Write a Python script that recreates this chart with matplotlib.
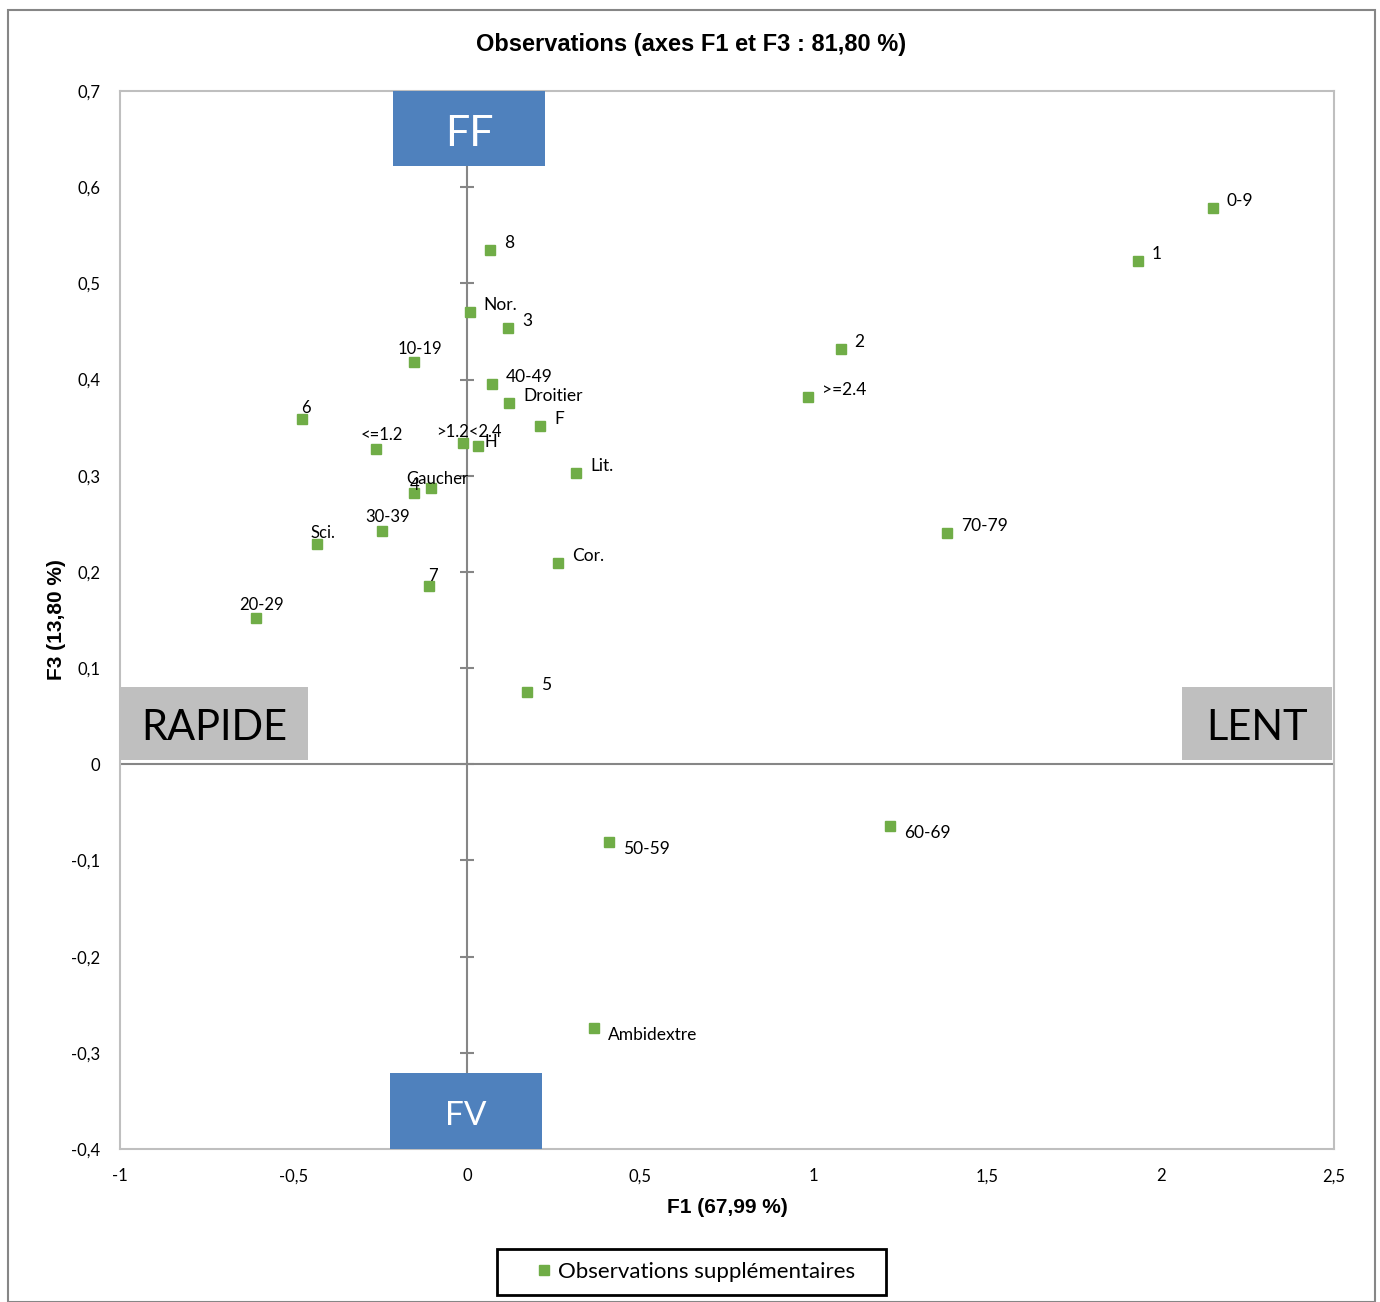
import matplotlib
matplotlib.use("Agg")
import matplotlib.pyplot as plt
from matplotlib.patches import Rectangle

plt.rcParams['font.family'] = ['Lato', 'DejaVu Sans']

labels = ['0-9', '1', '8', 'Nor.', '3', '10-19', '2', '40-49', '>=2.4', 'Droitier',
          '6', 'F', '<=1.2', '>1.2<2.4', 'H', 'Lit.', 'Gaucher', '4', '30-39', '70-79',
          'Sci.', 'Cor.', '7', '20-29', '5', '60-69', '50-59', 'Ambidextre']
f1 = [2.151, 1.935, 0.067, 0.009, 0.119, -0.152, 1.078, 0.072, 0.983, 0.122,
      -0.475, 0.211, -0.262, -0.011, 0.032, 0.315, -0.104, -0.152, -0.245, 1.384,
      -0.432, 0.263, -0.109, -0.607, 0.174, 1.220, 0.410, 0.366]
f3 = [0.578, 0.523, 0.535, 0.470, 0.454, 0.418, 0.432, 0.395, 0.382, 0.376,
      0.359, 0.352, 0.328, 0.334, 0.331, 0.303, 0.287, 0.282, 0.243, 0.240,
      0.229, 0.209, 0.185, 0.152, 0.075, -0.064, -0.081, -0.274]

# labels placed (almost) on top of their point: offset in points, alignment
close_labels = {'10-19': (4, 4, 'center'), '30-39': (4, 4, 'center'), '20-29': (4, 4, 'center'),
                '<=1.2': (4, 4, 'center'), 'Gaucher': (5, 1, 'center'), '>1.2<2.4': (4, 2, 'center'),
                '6': (-1, 2, 'left'), '7': (-1, 2, 'left'), 'Sci.': (-5, 2, 'left'), '4': (-3, 0, 'left'),
                'H': (5, -3, 'left')}

xticks = [-1, -0.5, 0, 0.5, 1, 1.5, 2, 2.5]
yticks = [-0.4, -0.3, -0.2, -0.1, 0, 0.1, 0.2, 0.3, 0.4, 0.5, 0.6, 0.7]

W, H = 1380, 1302
fig = plt.figure(figsize=(13.8, 13.02), dpi=100)
ax = fig.add_axes([120 / W, 1 - 1149 / H, 1214 / W, 1058 / H])

green = '#70AD47'
ax.set_xlim(-1, 2.5)
ax.set_ylim(-0.4, 0.7)

ax.axhline(0, color='#868686', lw=1.5, zorder=1)
ax.axvline(0, color='#868686', lw=1.5, zorder=1)
# tick marks on the vertical axis line
ax.plot([0] * len(yticks), yticks, marker='_', ms=10, mew=1.5, color='#868686', ls='none', zorder=1)

pts = ax.plot(f1, f3, 's', ms=6.5, color=green, ls='none', zorder=3,
              label='Observations supplémentaires')[0]

for lab, x, y in zip(labels, f1, f3):
    if lab in close_labels:
        dx, dy, ha = close_labels[lab]
        ax.annotate(lab, (x, y), xytext=(dx, dy), textcoords='offset points', ha=ha, va='bottom',
                    fontsize=12, zorder=4)
    else:
        dy = 5 if y > 0 else -5
        ax.annotate(lab, (x, y), xytext=(10, dy), textcoords='offset points', ha='left', va='center',
                    fontsize=12.5, zorder=4)

for s in ax.spines.values():
    s.set_color('#BFBFBF')
    s.set_linewidth(1.5)
ax.set_xticks(xticks)
ax.set_yticks(yticks)
ax.set_xticklabels([f'{t:g}'.replace('.', ',') for t in xticks])
ax.set_yticklabels([f'{t:g}'.replace('.', ',') for t in yticks])
ax.tick_params(length=0, labelsize=12, pad=14)
ax.set_xlabel('F1 (67,99 %)', fontsize=15, fontweight='bold', family='Liberation Sans', labelpad=10)
ax.set_ylabel('F3 (13,80 %)', fontsize=15, fontweight='bold', family='Liberation Sans', labelpad=4)

fig.text(691 / W, 1 - 45 / H, 'Observations (axes F1 et F3 : 81,80 %)', ha='center', va='center',
         fontsize=17, fontweight='bold', family='Liberation Sans')

# overlay boxes (pixel coordinates of the figure)
boxes = [('FF', 393, 91, 152, 75, '#4F81BD', 'white', 31),
         ('FV', 390, 1073, 152, 76, '#4F81BD', 'white', 24),
         ('RAPIDE', 120, 687, 188, 73, '#BFBFBF', 'black', 30),
         ('LENT', 1182, 687, 150, 73, '#BFBFBF', 'black', 30)]
for txt, bx, by, bw, bh, fc, tc, fs in boxes:
    fig.add_artist(Rectangle((bx / W, 1 - (by + bh) / H), bw / W, bh / H,
                             transform=fig.transFigure, facecolor=fc, edgecolor='none', zorder=5))
    fig.text((bx + bw / 2) / W, 1 - (by + bh / 2 + 5) / H, txt, ha='center', va='center',
             fontsize=fs, color=tc, zorder=6)

# outer chart border
fig.add_artist(Rectangle((8 / W, 0), 1367 / W, 1 - 10 / H, transform=fig.transFigure,
                         facecolor='none', edgecolor='#868686', lw=1.5))

# legend: frame drawn separately to get the wide padding of the original
fig.add_artist(Rectangle((497 / W, 1 - 1295 / H), 389 / W, 46 / H, transform=fig.transFigure,
                         facecolor='white', edgecolor='black', lw=2, zorder=5))
leg = fig.legend(handles=[pts], loc='center', bbox_to_anchor=(697 / W, 1 - 1272 / H),
                 fontsize=16, frameon=False, handlelength=0.5, handletextpad=0.4,
                 borderpad=0, borderaxespad=0, markerscale=1.0)
leg.set_zorder(6)

fig.savefig('out.png', dpi=100)
